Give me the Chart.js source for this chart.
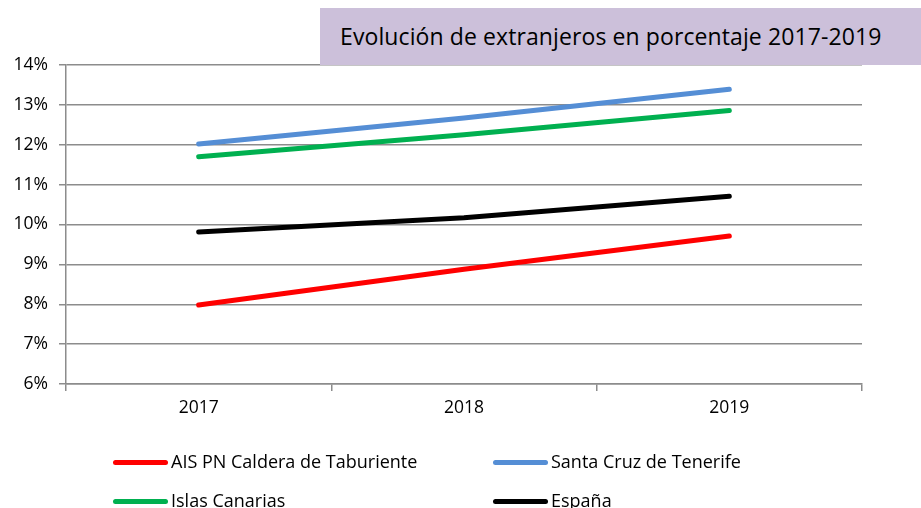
<!DOCTYPE html>
<html>
<head>
<meta charset="utf-8">
<script src="https://cdn.jsdelivr.net/npm/chart.js@4"></script>
<style>
  html, body { margin: 0; padding: 0; background: #fff; }
  #wrap { position: relative; width: 921px; height: 508px; overflow: hidden; }
  #title {
    position: absolute; left: 320px; top: 8px; width: 601px; height: 57px;
    background: #ccc0da; font-family: "Open Sans", sans-serif; font-size: 23px;
    color: #000; line-height: 57px; box-sizing: border-box; padding-left: 20px;
    white-space: nowrap; z-index: 2; letter-spacing: 0.1px;
  }
  #legend { position: absolute; left: 0; top: 0; width: 921px; height: 508px; pointer-events: none; }
  .li { position: absolute; font-family: "Open Sans", sans-serif; font-size: 18px; color: #000; white-space: nowrap; line-height: 22px; }
  .li span.sw { display: inline-block; width: 55px; height: 5px; border-radius: 3px; vertical-align: middle; margin-right: 3px; position: relative; top: -1px; }
</style>
</head>
<body>
<div id="wrap">
  <canvas id="c" width="921" height="508"></canvas>
  <div id="title">Evolución de extranjeros en porcentaje 2017-2019</div>
  <div id="legend"></div>
</div>
<script>
const categories = ["2017", "2018", "2019"];
const seriesNames = ["AIS PN Caldera de Taburiente", "Santa Cruz de Tenerife", "Islas Canarias", "España"];
const aisCaldera = [7.98, 8.88, 9.71];
const santaCruz = [12.02, 12.67, 13.39];
const islasCanarias = [11.70, 12.25, 12.86];
const espana = [9.81, 10.17, 10.71];
const seriesColors = ["#ff0000", "#558ed5", "#00b050", "#000000"];
const yTicks = [6, 7, 8, 9, 10, 11, 12, 13, 14];

const allSeries = [aisCaldera, santaCruz, islasCanarias, espana];
const datasets = allSeries.map((d, i) => ({
  label: seriesNames[i],
  data: d,
  borderColor: seriesColors[i],
  backgroundColor: seriesColors[i],
  borderWidth: 5,
  pointRadius: 0,
  tension: 0,
  borderCapStyle: 'round',
  borderJoinStyle: 'round',
  fill: false
}));

const FONT = "'Open Sans', sans-serif";
const chart = new Chart(document.getElementById('c'), {
  type: 'line',
  data: { labels: categories, datasets },
  options: {
    responsive: false,
    animation: false,
    layout: { padding: { left: 0, right: 59, top: 65, bottom: 0 } },
    plugins: { legend: { display: false }, title: { display: false }, tooltip: { enabled: false } },
    scales: {
      x: {
        offset: true,
        grid: { offset: true, drawOnChartArea: false, drawTicks: true, tickLength: 7, color: '#8c8c8c', lineWidth: 1.5 },
        border: { display: true, color: '#8c8c8c', width: 1.5 },
        ticks: { color: '#000', font: { family: FONT, size: 17.5 }, padding: 7, maxRotation: 0 },
        afterFit(s) { s.height = 508 - 384; }
      },
      y: {
        min: 6, max: 14,
        afterBuildTicks(s) { s.ticks = yTicks.map(v => ({ value: v })); },
        grid: { color: '#8c8c8c', lineWidth: 1.5, drawTicks: true, tickLength: 7 },
        border: { display: true, color: '#8c8c8c', width: 1.5 },
        ticks: { color: '#000', font: { family: FONT, size: 17.5 }, padding: 11, callback: v => v + '%' },
        afterFit(s) { s.width = 66; }
      }
    }
  }
});

// HTML legend built from datasets
const legendPos = [
  { left: 113, top: 450 },
  { left: 493, top: 450 },
  { left: 113, top: 489 },
  { left: 493, top: 489 }
];
const legend = document.getElementById('legend');
chart.data.datasets.forEach((ds, i) => {
  const d = document.createElement('div');
  d.className = 'li';
  d.style.left = legendPos[i].left + 'px';
  d.style.top = legendPos[i].top + 'px';
  const sw = document.createElement('span');
  sw.className = 'sw';
  sw.style.background = ds.borderColor;
  d.appendChild(sw);
  d.appendChild(document.createTextNode(ds.label));
  legend.appendChild(d);
});
</script>
</body>
</html>
